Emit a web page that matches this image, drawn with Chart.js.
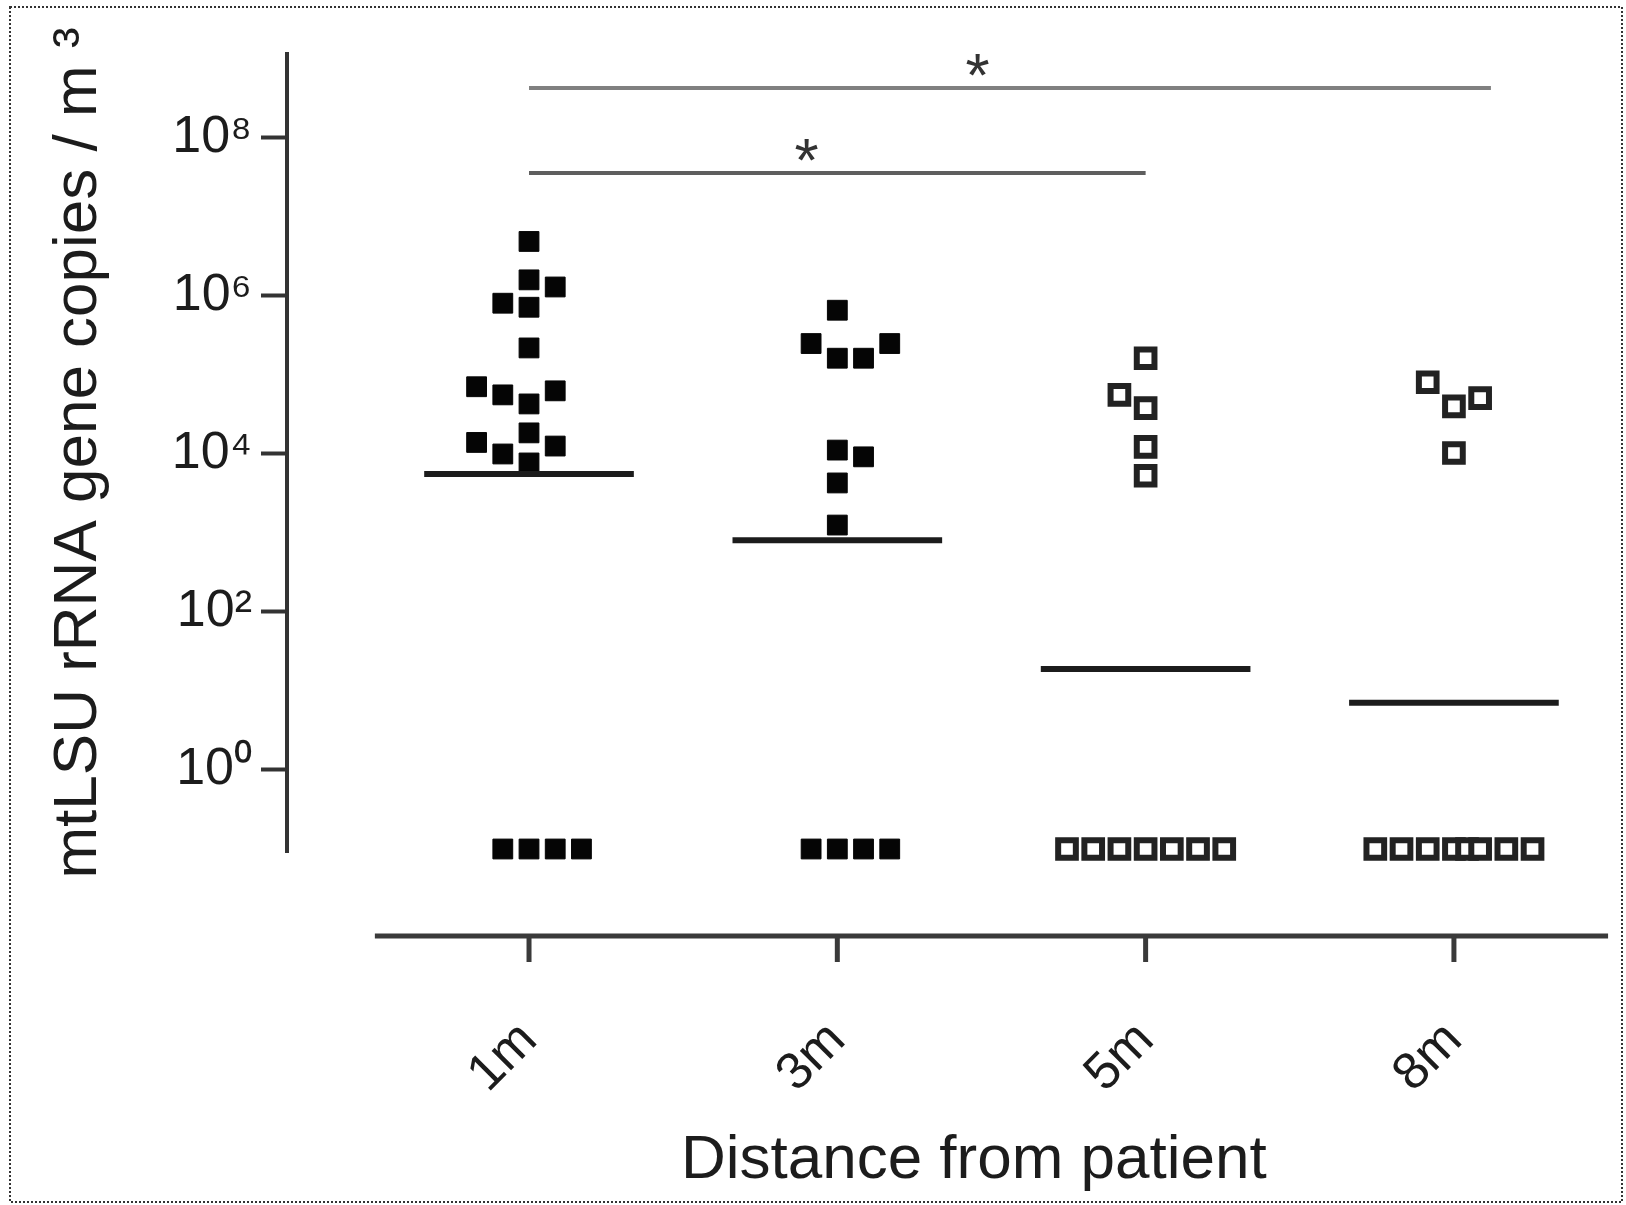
<!DOCTYPE html>
<html>
<head>
<meta charset="utf-8">
<title>mtLSU rRNA gene copies by distance from patient</title>
<script src="https://cdn.jsdelivr.net/npm/chart.js@4.4.1/dist/chart.umd.min.js"></script>
<style>
  html, body { margin: 0; padding: 0; background: #fff; }
  canvas { display: block; }
</style>
</head>
<body>
<canvas id="chart" width="1626" height="1205"></canvas>
<script>
// distance groups and the decades that get a label on the y axis
const categories = ['1m', '3m', '5m', '8m'];
const yTicks = [1e0, 1e2, 1e4, 1e6, 1e8];

// samples per group (copies / m3); undetected samples are plotted at 0.1
// colsXX = column of each square in the dot strip, 0 = group centre
const values1m = [4.9e6, 1.6e6, 1.3e6, 8.1e5, 7.2e5, 2.2e5, 7.1e4, 5.6e4, 6.3e4, 4.3e4, 1.85e4, 1.4e4, 1.0e4, 1.26e4, 7.7e3, 0.1, 0.1, 0.1, 0.1];
const cols1m   = [0, 0, 1, -1, 0, 0, -2, -1, 1, 0, 0, -2, -1, 1, 0, -1, 0, 1, 2];
const values3m = [6.6e5, 2.5e5, 1.63e5, 1.63e5, 2.5e5, 1.12e4, 9.2e3, 4.3e3, 1.26e3, 0.1, 0.1, 0.1, 0.1];
const cols3m   = [0, -1, 0, 1, 2, 0, 1, 0, 0, -1, 0, 1, 2];
const values5m = [1.63e5, 5.6e4, 3.8e4, 1.23e4, 5.3e3, 0.1, 0.1, 0.1, 0.1, 0.1, 0.1, 0.1];
const cols5m   = [0, -1, 0, 0, 0, -3, -2, -1, 0, 1, 2, 3];
const values8m = [8.1e4, 4.0e4, 5.1e4, 1.03e4, 0.1, 0.1, 0.1, 0.1, 0.1, 0.1, 0.1, 0.1];
const cols8m   = [-1, 0, 1, 0, -3, -2, -1, 0, 0.5, 1, 2, 3];

// horizontal line drawn across each group
const centreLines = [5.6e3, 8.1e2, 19, 7.1];

// significance brackets (group index from / to, height, where the * sits)
const sigFrom = [0, 0];
const sigTo = [3.12, 2];
const sigLevel = [4.3e8, 3.6e7];
const sigStarAt = [1.455, 0.9];

const COL = 0.085;          // one square width, in group units
const LINE_HALF = 0.34;     // half width of the group line
const X_AXIS_GAP = 84;      // prism style: x axis sits below the y axis end
const FONT = "'Liberation Sans', Arial, Helvetica, sans-serif";
const INK = '#1c1c1c';
const SUP = '⁰¹²³⁴⁵⁶⁷⁸⁹';

const pow10Label = v => '10' + String(Math.round(Math.log10(v))).split('').map(d => SUP[+d]).join('');
const strip = (values, cols, g) => values.map((v, i) => ({ x: g + cols[i] * COL, y: v }));

const groups = [
  { values: values1m, cols: cols1m, hollow: false },
  { values: values3m, cols: cols3m, hollow: false },
  { values: values5m, cols: cols5m, hollow: true },
  { values: values8m, cols: cols8m, hollow: true }
];

const datasets = [];

centreLines.forEach((v, g) => {
  datasets.push({
    label: categories[g] + ' line',
    data: [{ x: g - LINE_HALF, y: v }, { x: g + LINE_HALF, y: v }],
    showLine: true,
    pointRadius: 0,
    borderColor: INK,
    borderWidth: 6,
    clip: false
  });
});

sigLevel.forEach((lvl, i) => {
  datasets.push({
    label: 'sig ' + i,
    data: [{ x: sigFrom[i], y: lvl }, { x: sigTo[i], y: lvl }],
    showLine: true,
    pointRadius: 0,
    borderColor: i === 0 ? '#808080' : '#5e5e5e',
    borderWidth: 4,
    clip: false
  });
});

groups.forEach((grp, g) => {
  datasets.push({
    label: categories[g],
    data: strip(grp.values, grp.cols, g),
    pointStyle: 'rect',
    pointRadius: grp.hollow ? 12.5 : 14,
    pointHoverRadius: grp.hollow ? 12.5 : 14,
    pointBackgroundColor: grp.hollow ? '#ffffff' : '#050505',
    pointBorderColor: grp.hollow ? '#222' : '#050505',
    pointBorderWidth: grp.hollow ? 6 : 1,
    showLine: false,
    clip: false
  });
});

// offset x axis, frame and significance stars
const prismExtras = {
  id: 'prismExtras',
  beforeDraw(chart) {
    const { ctx } = chart;
    ctx.save();
    ctx.strokeStyle = '#333';
    ctx.lineWidth = 2;
    ctx.setLineDash([2, 2]);
    ctx.strokeRect(10, 7, chart.width - 14, chart.height - 10);
    ctx.restore();
  },
  afterDraw(chart) {
    const { ctx, scales: { x, y }, chartArea } = chart;
    const yAxis = chartArea.bottom + X_AXIS_GAP;
    ctx.save();
    ctx.strokeStyle = '#3a3a3a';
    ctx.lineWidth = 5;
    ctx.beginPath();
    ctx.moveTo(x.getPixelForValue(-0.5), yAxis);
    ctx.lineTo(x.getPixelForValue(categories.length - 0.5), yAxis);
    ctx.stroke();
    categories.forEach((_, i) => {
      const px = x.getPixelForValue(i);
      ctx.beginPath();
      ctx.moveTo(px, yAxis);
      ctx.lineTo(px, yAxis + 26);
      ctx.stroke();
    });

    ctx.fillStyle = '#333';
    ctx.font = '62px ' + FONT;
    ctx.textAlign = 'center';
    ctx.textBaseline = 'alphabetic';
    const m = ctx.measureText('*');
    const half = (m.actualBoundingBoxAscent - m.actualBoundingBoxDescent) / 2;
    sigStarAt.forEach((sx, i) => {
      const cy = y.getPixelForValue(sigLevel[i]) - 23;
      ctx.fillText('*', x.getPixelForValue(sx), cy + half);
    });
    ctx.restore();
  }
};

new Chart(document.getElementById('chart'), {
  type: 'scatter',
  data: { datasets },
  plugins: [prismExtras],
  options: {
    responsive: false,
    animation: false,
    layout: { autoPadding: false, padding: { left: 0, top: 54, right: 17, bottom: 7 } },
    plugins: {
      legend: { display: false },
      tooltip: { enabled: false }
    },
    scales: {
      x: {
        type: 'linear',
        min: -0.785,
        max: 3.503,
        afterFit: s => { s.height = 346; s.paddingLeft = 0; s.paddingRight = 0; },
        afterBuildTicks: s => { s.ticks = categories.map((_, i) => ({ value: i })); },
        // grid hidden; tickLength only pushes the labels below the offset axis
        grid: { display: false, drawTicks: true, tickLength: 150 },
        border: { display: false },
        ticks: {
          autoSkip: false,
          minRotation: 45,
          maxRotation: 45,
          padding: 8,
          color: INK,
          font: { family: FONT, size: 52 },
          callback: v => categories[v] ?? ''
        },
        title: {
          display: true,
          // leading spaces nudge the centred title right, like the original
          text: '\u00a0\u00a0\u00a0Distance from patient',
          color: INK,
          font: { family: FONT, size: 62 },
          padding: { top: 0, bottom: 0 }
        }
      },
      y: {
        type: 'logarithmic',
        min: Math.pow(10, -1.038),
        max: Math.pow(10, 9.063),
        afterFit: s => { s.width = 287; },
        afterBuildTicks: s => { s.ticks = yTicks.map(v => ({ value: v })); },
        grid: {
          drawOnChartArea: false,
          tickLength: 26,
          tickWidth: 4,
          tickColor: '#333'
        },
        border: { color: '#333', width: 4 },
        ticks: {
          padding: 9,
          color: INK,
          font: { family: FONT, size: 52 },
          callback: v => pow10Label(v)
        },
        title: {
          display: true,
          text: 'mtLSU rRNA gene copies / m ³',
          color: INK,
          font: { family: FONT, size: 62 },
          padding: { top: 42, bottom: 0 }
        }
      }
    }
  }
});
</script>
</body>
</html>
